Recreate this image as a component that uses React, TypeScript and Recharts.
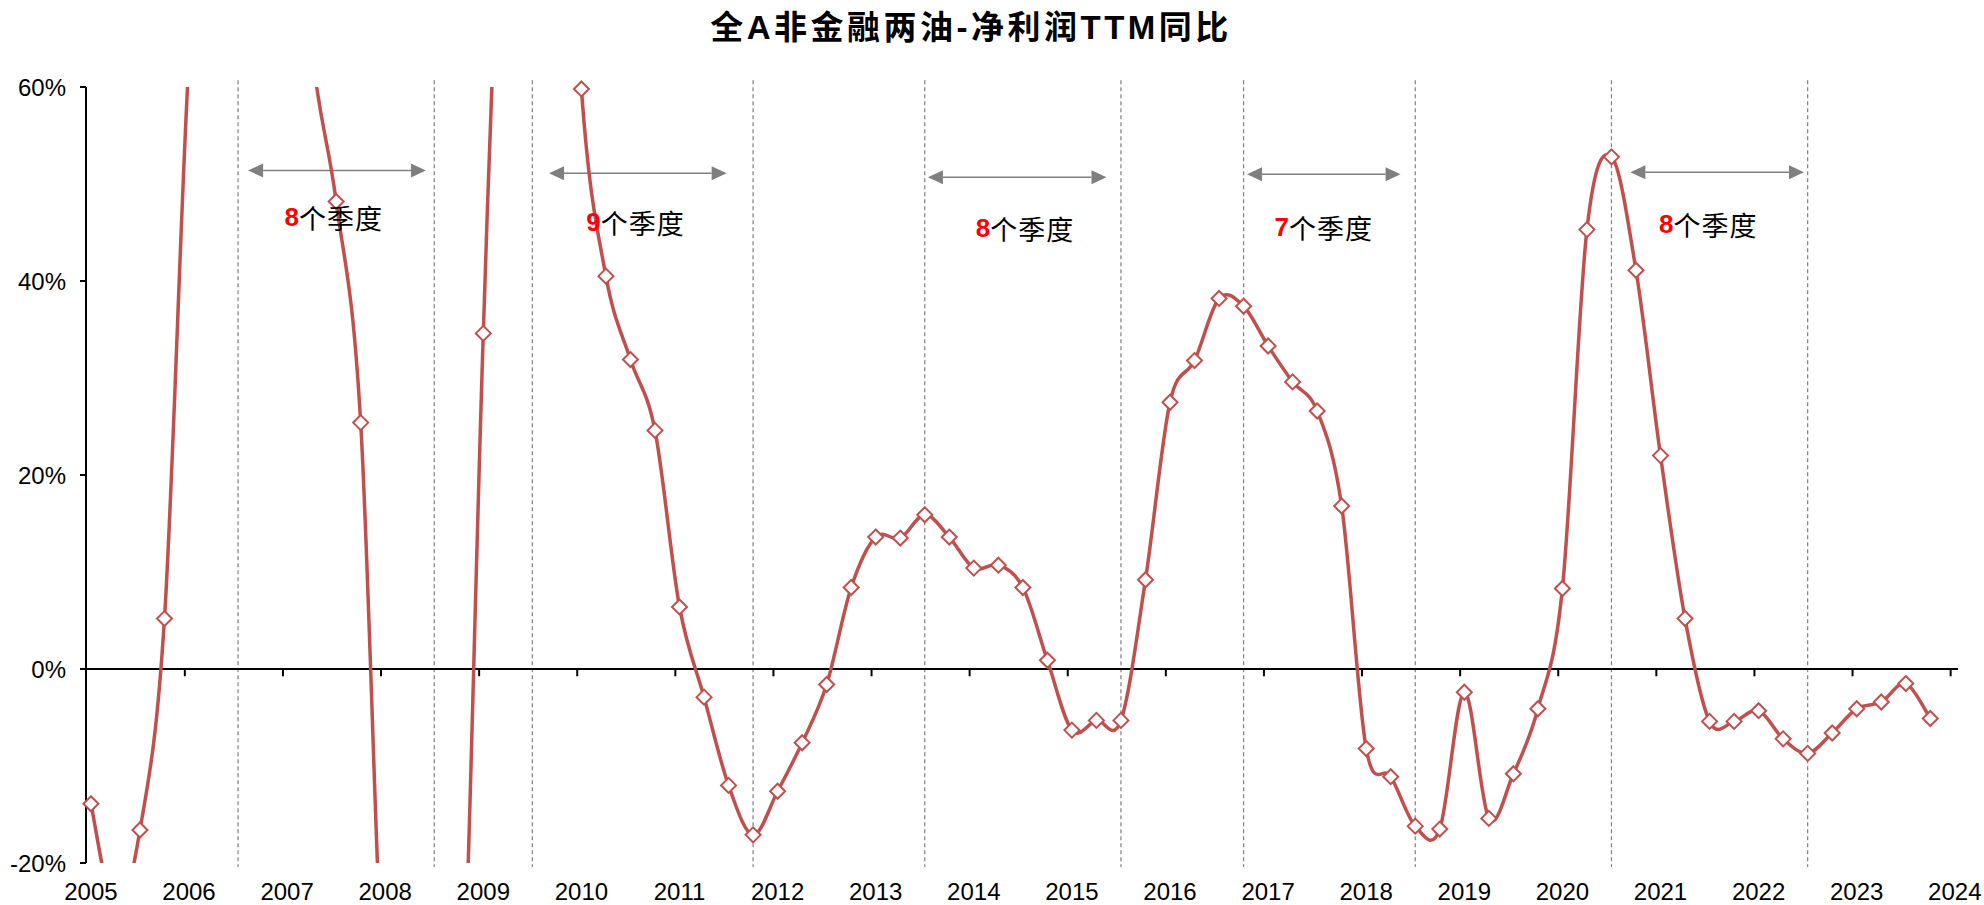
import {
  Line,
  LineChart,
  ReferenceDot,
  ReferenceLine,
  Scatter,
  XAxis,
  YAxis,
} from "recharts";

// 全A非金融两油 净利润TTM同比 (%), quarterly 2005Q1 - 2023Q4
const profitYoY = [
  -13.9, -25, -16.6, 5.2, // 2005
  63, 95, 110, 105, // 2006
  95, 64, 48.2, 25.4, // 2007
  -38, -50, -65, -48, // 2008
  34.6, 105, 140, 110, // 2009
  59.8, 40.5, 31.9, 24.6, // 2010
  6.4, -2.9, -12.0, -17.1, // 2011
  -12.6, -7.6, -1.6, 8.4, // 2012
  13.6, 13.5, 15.9, 13.6, // 2013
  10.4, 10.7, 8.4, 0.9, // 2014
  -6.3, -5.3, -5.3, 9.2, // 2015
  27.5, 31.8, 38.2, 37.4, // 2016
  33.3, 29.6, 26.6, 16.8, // 2017
  -8.2, -11.1, -16.2, -16.5, // 2018
  -2.4, -15.4, -10.8, -4.1, // 2019
  8.3, 45.3, 52.8, 41.1, // 2020
  22.0, 5.2, -5.4, -5.4, // 2021
  -4.3, -7.2, -8.7, -6.6, // 2022
  -4.1, -3.4, -1.5, -5.1, // 2023
];

const yearLabels = [
  2005, 2006, 2007, 2008, 2009, 2010, 2011, 2012, 2013, 2014, 2015, 2016,
  2017, 2018, 2019, 2020, 2021, 2022, 2023, 2024,
];

const yTicks = [-20, 0, 20, 40, 60];

// quarter index where each cycle starts / ends, and its length
const cycleStarts = [6, 18, 34, 47, 62];
const cycleEnds = [14, 27, 42, 54, 70];
const cycleLengths = ["8", "9", "8", "7", "8"];

// where the arrows and their captions sit (quarter index / percent)
const arrowLayout = [
  { from: 6.41, to: 13.66, y: 51.4, tx: 9.9, ty: 46.6 },
  { from: 18.68, to: 25.92, y: 51.1, tx: 22.21, ty: 46.1 },
  { from: 34.13, to: 41.41, y: 50.7, tx: 38.09, ty: 45.5 },
  { from: 47.14, to: 53.4, y: 51.0, tx: 50.27, ty: 45.6 },
  { from: 62.77, to: 69.85, y: 51.2, tx: 65.95, ty: 45.9 },
];

const RED = "#C0504D";
const GREY = "#7F7F7F";
const LATIN = "'Liberation Sans', Arial, sans-serif";
const CJK = "'Noto Sans CJK SC', sans-serif";

const rows = profitYoY.map((v, q) => ({ q, v }));
const markerRows = rows.filter((r) => r.v >= -20.5 && r.v <= 60.5);
const labelTicks = yearLabels.map((_, i) => i * 4);

// Excel-like smoothed line (Catmull-Rom through every point)
function excelSmooth(context: any) {
  let pts: number[][] = [];
  return {
    areaStart() {},
    areaEnd() {},
    lineStart() {
      pts = [];
    },
    point(x: number, y: number) {
      pts.push([+x, +y]);
    },
    lineEnd() {
      if (!pts.length) return;
      context.moveTo(pts[0][0], pts[0][1]);
      for (let i = 0; i < pts.length - 1; i++) {
        const p0 = pts[Math.max(i - 1, 0)];
        const p1 = pts[i];
        const p2 = pts[i + 1];
        const p3 = pts[Math.min(i + 2, pts.length - 1)];
        context.bezierCurveTo(
          p1[0] + (p2[0] - p0[0]) / 6,
          p1[1] + (p2[1] - p0[1]) / 6,
          p2[0] - (p3[0] - p1[0]) / 6,
          p2[1] - (p3[1] - p1[1]) / 6,
          p2[0],
          p2[1]
        );
      }
    },
  };
}

const renderDiamond = (p: any) => {
  const { cx, cy } = p;
  if (cx == null || cy == null) return <g />;
  const s = 7.5;
  return (
    <path
      d={`M${cx},${cy - s} L${cx + s},${cy} L${cx},${cy + s} L${cx - s},${cy} Z`}
      fill="#fff"
      stroke={RED}
      strokeWidth={2}
    />
  );
};

const renderArrow = (p: any) => {
  const { x1, y1, x2 } = p;
  const h = 15;
  const w = 7;
  return (
    <g>
      <line x1={x1 + h} y1={y1} x2={x2 - h} y2={y1} stroke={GREY} strokeWidth={1.5} />
      <path d={`M${x1},${y1} L${x1 + h},${y1 - w} L${x1 + h},${y1 + w} Z`} fill={GREY} />
      <path d={`M${x2},${y1} L${x2 - h},${y1 - w} L${x2 - h},${y1 + w} Z`} fill={GREY} />
    </g>
  );
};

const cycleCaption = (n: string) => (p: any) => (
  <text
    x={p.cx}
    y={p.cy}
    textAnchor="middle"
    dominantBaseline="central"
    fontSize={27}
    fontFamily={CJK}
    fill="#000"
  >
    <tspan fill="#FF0000" fontWeight="bold" fontFamily={LATIN} fontSize={26}>
      {n}
    </tspan>
    <tspan letterSpacing={1}>个季度</tspan>
  </text>
);

export default function App() {
  return (
    <div
      style={{
        position: "absolute",
        left: 0,
        top: 0,
        width: 1984,
        height: 905,
        background: "#fff",
      }}
    >
      <div
        style={{
          position: "absolute",
          left: 0,
          top: 8,
          width: 1942,
          textAlign: "center",
          fontSize: 33,
          lineHeight: "40px",
          fontWeight: "bold",
          letterSpacing: 3.5,
          fontFamily: `${LATIN.split(",")[0]}, ${CJK}`,
          color: "#000",
        }}
      >
        全A非金融两油-净利润TTM同比
      </div>
      <LineChart
        width={1984}
        height={905}
        data={rows}
        margin={{ top: 87, right: 26, left: 0, bottom: 0 }}
      >
        <XAxis
          dataKey="q"
          type="number"
          domain={[-0.2, 76.13]}
          ticks={labelTicks}
          interval={0}
          tickFormatter={(q: number) => String(yearLabels[Math.round(q / 4)])}
          axisLine={false}
          tickLine={false}
          tickSize={6}
          tickMargin={14}
          height={42}
          tick={{ fontSize: 24, fill: "#000", fontFamily: LATIN }}
        />
        <YAxis
          domain={[-20, 60]}
          allowDataOverflow
          ticks={yTicks}
          interval={0}
          width={86}
          tickFormatter={(v: number) => `${v}%`}
          axisLine={{ stroke: "#000", strokeWidth: 2 }}
          tickLine={{ stroke: "#000", strokeWidth: 2 }}
          tickSize={6}
          tickMargin={14}
          tick={{ fontSize: 24, fill: "#000", fontFamily: LATIN }}
        />
        <YAxis yAxisId="m" hide domain={[-20, 60]} />

        {[...cycleStarts, ...cycleEnds].map((q) => (
          <ReferenceLine
            key={`d${q}`}
            segment={[
              { x: q, y: 60.7 },
              { x: q, y: -20.4 },
            ]}
            ifOverflow="visible"
            stroke={GREY}
            strokeWidth={1.2}
            strokeDasharray="4 3"
          />
        ))}

        <ReferenceLine y={0} stroke="#000" strokeWidth={2} />
        {labelTicks.slice(1).map((q) => (
          <ReferenceLine
            key={`t${q}`}
            segment={[
              { x: q - 0.17, y: 0 },
              { x: q - 0.17, y: -0.75 },
            ]}
            stroke="#000"
            strokeWidth={2}
          />
        ))}

        {arrowLayout.map((a, i) => (
          <ReferenceLine
            key={`a${i}`}
            segment={[
              { x: a.from, y: a.y },
              { x: a.to, y: a.y },
            ]}
            ifOverflow="visible"
            shape={renderArrow}
          />
        ))}

        <Line
          dataKey="v"
          type={excelSmooth as any}
          stroke={RED}
          strokeWidth={3.5}
          dot={false}
          activeDot={false}
          isAnimationActive={false}
        />
        <Scatter
          data={markerRows}
          dataKey="v"
          yAxisId="m"
          shape={renderDiamond}
          isAnimationActive={false}
        />

        {arrowLayout.map((a, i) => (
          <ReferenceDot
            key={`c${i}`}
            x={a.tx}
            y={a.ty}
            r={1}
            ifOverflow="visible"
            shape={cycleCaption(cycleLengths[i])}
          />
        ))}
      </LineChart>
    </div>
  );
}
